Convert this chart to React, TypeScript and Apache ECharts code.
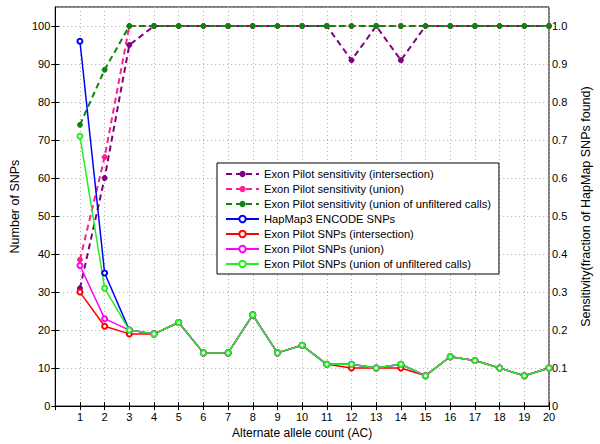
import React, { useEffect, useRef } from "react";
import * as echarts from "echarts";

const alleleCounts = [1, 2, 3, 4, 5, 6, 7, 8, 9, 10, 11, 12, 13, 14, 15, 16, 17, 18, 19, 20];

const sensIntersection = [0.31, 0.6, 0.95, 1, 1, 1, 1, 1, 1, 1, 1, 0.91, 1, 0.91, 1, 1, 1, 1, 1, 1];
const sensUnion = [0.385, 0.655, 1, 1, 1, 1, 1, 1, 1, 1, 1, 1, 1, 1, 1, 1, 1, 1, 1, 1];
const sensUnfiltered = [0.74, 0.885, 1, 1, 1, 1, 1, 1, 1, 1, 1, 1, 1, 1, 1, 1, 1, 1, 1, 1];

const hapmapSnps = [96, 35, 20, 19, 22, 14, 14, 24, 14, 16, 11, 11, 10, 11, 8, 13, 12, 10, 8, 10];
const snpsIntersection = [30, 21, 19, 19, 22, 14, 14, 24, 14, 16, 11, 10, 10, 10, 8, 13, 12, 10, 8, 10];
const snpsUnion = [37, 23, 20, 19, 22, 14, 14, 24, 14, 16, 11, 11, 10, 11, 8, 13, 12, 10, 8, 10];
const snpsUnfiltered = [71, 31, 20, 19, 22, 14, 14, 24, 14, 16, 11, 11, 10, 11, 8, 13, 12, 10, 8, 10];

const leftTicks = { min: 0, max: 105, interval: 10 };
const rightTicks = { min: 0, max: 1.05, interval: 0.1 };

const FONT = "Liberation Sans";

function pairs(vals: number[]) {
  return alleleCounts.map((x, i) => [x, vals[i]]);
}

export default function App() {
  const ref = useRef<HTMLDivElement>(null);
  useEffect(() => {
    if (!ref.current) return;
    const chart = echarts.init(ref.current, null, { renderer: "svg" });
    const dash = [6, 4];
    const sensSeries = (name: string, data: number[], color: string) => ({
      name,
      type: "line",
      yAxisIndex: 1,
      data: pairs(data),
      symbol: "circle",
      symbolSize: 5,
      lineStyle: { color, width: 2, type: dash },
      itemStyle: { color, borderColor: color },
    });
    const snpSeries = (name: string, data: number[], color: string) => ({
      name,
      type: "line",
      yAxisIndex: 0,
      data: pairs(data),
      symbol: "emptyCircle",
      symbolSize: 5,
      lineStyle: { color, width: 1.5 },
      itemStyle: { color, borderColor: color, borderWidth: 1.2 },
    });
    const gridLine = { show: true, lineStyle: { color: "#b0b0b0", type: [1, 3], width: 1 } };
    chart.setOption({
      animation: false,
      backgroundColor: "#fff",
      textStyle: { fontFamily: FONT },
      grid: { left: 48, right: 44, top: 7, bottom: 35, show: true, borderColor: "#000", borderWidth: 1 },
      legend: {
        orient: "vertical",
        left: 217,
        top: 163,
        padding: [5, 8, 4, 8],
        itemGap: 3,
        itemWidth: 33,
        itemHeight: 8,
        backgroundColor: "#fff",
        borderColor: "#000",
        borderWidth: 1,
        borderRadius: 0,
        textStyle: { fontFamily: FONT, fontSize: 11.2, color: "#000", lineHeight: 12 },
        data: [
          "Exon Pilot sensitivity (intersection)",
          "Exon Pilot sensitivity (union)",
          "Exon Pilot sensitivity (union of unfiltered calls)",
          "HapMap3 ENCODE SNPs",
          "Exon Pilot SNPs (intersection)",
          "Exon Pilot SNPs (union)",
          "Exon Pilot SNPs (union of unfiltered calls)",
        ],
      },
      xAxis: [
        {
          type: "value",
          min: 0,
          max: 20,
          interval: 1,
          position: "bottom",
          name: "Alternate allele count (AC)",
          nameLocation: "middle",
          nameGap: 20,
          nameTextStyle: { fontFamily: FONT, fontSize: 12, color: "#000" },
          axisLine: { show: true, lineStyle: { color: "#000" } },
          axisTick: { show: true, inside: true, length: 4, lineStyle: { color: "#000" } },
          axisLabel: {
            fontFamily: FONT,
            fontSize: 11,
            color: "#000",
            margin: 5,
            formatter: (v: number) => (v === 0 ? "" : String(v)),
          },
          splitLine: gridLine,
        },
        {
          type: "value",
          min: 0,
          max: 20,
          interval: 1,
          position: "top",
          axisLine: { show: true, lineStyle: { color: "#000" } },
          axisTick: { show: true, inside: true, length: 4, lineStyle: { color: "#000" } },
          axisLabel: { show: false },
          splitLine: { show: false },
        },
      ],
      yAxis: [
        {
          type: "value",
          ...leftTicks,
          position: "left",
          name: "Number of SNPs",
          nameLocation: "middle",
          nameGap: 28,
          nameRotate: 90,
          nameTextStyle: { fontFamily: FONT, fontSize: 12.5, color: "#000" },
          axisLine: { show: true, lineStyle: { color: "#000" } },
          axisTick: { show: true, inside: true, length: 4, lineStyle: { color: "#000" } },
          axisLabel: { fontFamily: FONT, fontSize: 11, color: "#000", margin: 5, showMaxLabel: false },
          splitLine: gridLine,
        },
        {
          type: "value",
          ...rightTicks,
          position: "right",
          name: "Sensitivity(fraction of HapMap SNPs found)",
          nameLocation: "middle",
          nameGap: 30,
          nameRotate: 90,
          nameTextStyle: { fontFamily: FONT, fontSize: 12.5, color: "#000" },
          axisLine: { show: true, lineStyle: { color: "#000" } },
          axisTick: { show: true, inside: true, length: 4, lineStyle: { color: "#000" } },
          axisLabel: {
            fontFamily: FONT,
            fontSize: 11,
            color: "#000",
            margin: 3,
            showMaxLabel: false,
            formatter: (v: number) => (Math.abs(v) < 1e-9 ? "0" : v.toFixed(1)),
          },
          splitLine: { show: false },
        },
      ],
      series: [
        sensSeries("Exon Pilot sensitivity (intersection)", sensIntersection, "#800080"),
        sensSeries("Exon Pilot sensitivity (union)", sensUnion, "#ff1f8f"),
        sensSeries("Exon Pilot sensitivity (union of unfiltered calls)", sensUnfiltered, "#0a860a"),
        snpSeries("HapMap3 ENCODE SNPs", hapmapSnps, "#0000ff"),
        snpSeries("Exon Pilot SNPs (intersection)", snpsIntersection, "#ff0000"),
        snpSeries("Exon Pilot SNPs (union)", snpsUnion, "#ff00ff"),
        snpSeries("Exon Pilot SNPs (union of unfiltered calls)", snpsUnfiltered, "#22ee22"),
      ],
    });
    return () => chart.dispose();
  }, []);
  return <div ref={ref} style={{ width: 600, height: 444, position: "absolute", left: 0, top: 0 }} />;
}
